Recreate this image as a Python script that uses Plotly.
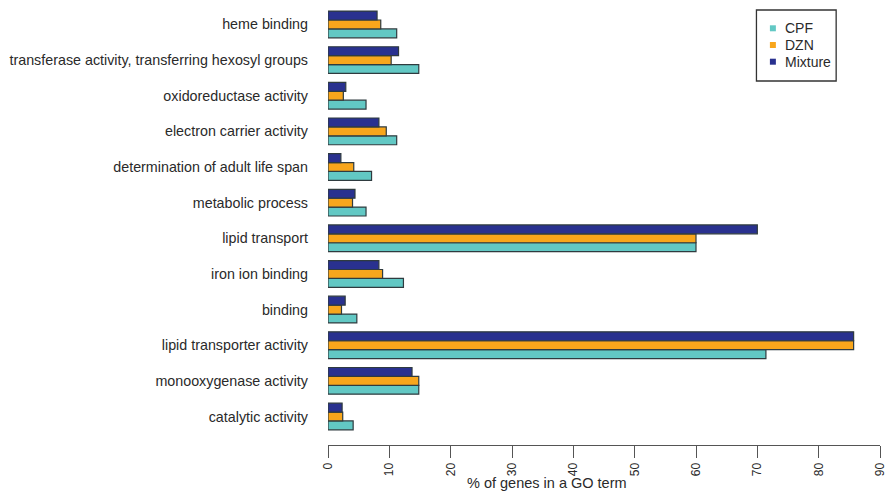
import plotly.graph_objects as go

# GO terms, listed from bottom to top of the chart
terms = [
    "catalytic activity",
    "monooxygenase activity",
    "lipid transporter activity",
    "binding",
    "iron ion binding",
    "lipid transport",
    "metabolic process",
    "determination of adult life span",
    "electron carrier activity",
    "oxidoreductase activity",
    "transferase activity, transferring hexosyl groups",
    "heme binding",
]

# % of genes in each GO term, per treatment (same order as terms)
cpf = [4.1, 14.8, 71.4, 4.7, 12.3, 60.0, 6.2, 7.1, 11.2, 6.2, 14.8, 11.2]
dzn = [2.4, 14.8, 85.7, 2.2, 8.9, 60.0, 4.0, 4.2, 9.5, 2.5, 10.3, 8.6]
mixture = [2.3, 13.7, 85.7, 2.8, 8.3, 70.0, 4.4, 2.1, 8.3, 2.9, 11.5, 8.0]

series_names = ["CPF", "DZN", "Mixture"]
series_values = [cpf, dzn, mixture]
series_colors = ["#62C8C4", "#F8A61C", "#29318F"]

x_ticks = [0, 10, 20, 30, 40, 50, 60, 70, 80, 90]

FONT = "Liberation Sans, Arial, Helvetica, sans-serif"
TEXT = "#2a2a2a"

W, H = 892, 499
ML, MR, MT, MB = 328, 10, 5, 54
PW, PH = W - ML - MR, H - MT - MB


def px_x(x):
    return (x - ML) / PW


def px_y(y):
    return (H - MB - y) / PH


fig = go.Figure()
idx = list(range(len(terms)))

for name, vals, col in zip(series_names, series_values, series_colors):
    fig.add_trace(go.Bar(
        y=idx, x=vals, orientation="h", name=name,
        marker=dict(color=col, line=dict(color="#2f3b3f", width=1.2)),
        showlegend=False,
    ))

fig.update_layout(
    width=W, height=H,
    margin=dict(l=ML, r=MR, t=MT, b=MB),
    paper_bgcolor="white", plot_bgcolor="white",
    barmode="group", bargap=0.25, bargroupgap=0,
    showlegend=False,
    font=dict(family=FONT, size=14, color=TEXT),
    xaxis=dict(
        range=[0, 90], tickvals=x_ticks, ticktext=[str(v) for v in x_ticks],
        tickangle=-90, ticks="outside", ticklen=12, tickwidth=1.2, tickcolor="#555555",
        showline=True, linecolor="#555555", linewidth=1.2,
        showgrid=False, zeroline=False,
        tickfont=dict(size=12, color=TEXT),
    ),
    yaxis=dict(
        range=[-0.80, 11.546], tickvals=idx, ticktext=terms,
        showline=False, showgrid=False, zeroline=False, ticks="",
        ticklabelstandoff=19, tickfont=dict(size=14.3, color=TEXT),
    ),
)

# legend box with small square keys
fig.add_shape(
    type="rect", xref="paper", yref="paper",
    x0=px_x(758), x1=px_x(838), y0=px_y(81), y1=px_y(10),
    line=dict(color="#333333", width=1.3), fillcolor="white",
)
for i, (name, col) in enumerate(zip(series_names, series_colors)):
    cy = 28.3 + i * 16.7
    fig.add_shape(
        type="rect", xref="paper", yref="paper",
        x0=px_x(771.5), x1=px_x(777.5), y0=px_y(cy + 3), y1=px_y(cy - 3),
        line=dict(width=0), fillcolor=col,
    )
    fig.add_annotation(
        text=name, xref="paper", yref="paper",
        x=px_x(785), y=px_y(cy), xanchor="left", yanchor="middle",
        showarrow=False, font=dict(size=14, color=TEXT),
    )

fig.add_annotation(
    text="% of genes in a GO term", xref="paper", yref="paper",
    x=px_x(548), y=px_y(483), xanchor="center", yanchor="middle",
    showarrow=False, font=dict(size=14.5, color=TEXT),
)

fig.write_html("out.html")
